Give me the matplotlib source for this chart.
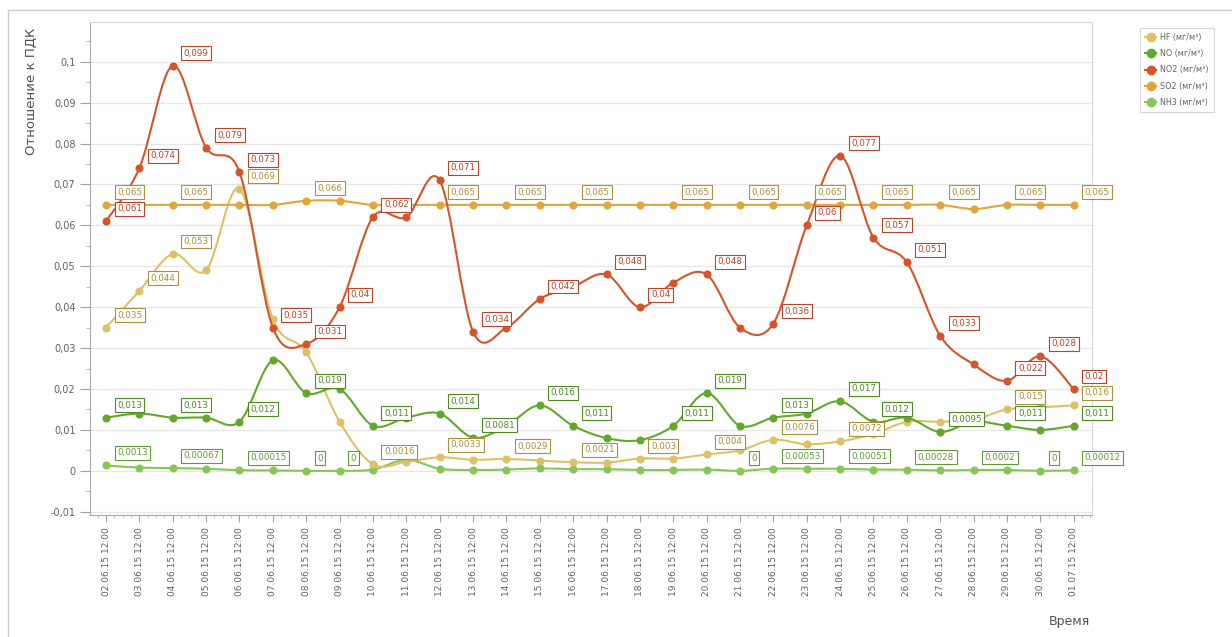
import numpy as np
import matplotlib
matplotlib.use("Agg")
import matplotlib.pyplot as plt
from matplotlib.path import Path
from matplotlib.patches import PathPatch
from matplotlib.lines import Line2D
from matplotlib.ticker import FixedLocator, AutoMinorLocator, MultipleLocator, FuncFormatter

# --- данные ---
dates = ['02.06.15 12:00', '03.06.15 12:00', '04.06.15 12:00', '05.06.15 12:00',
         '06.06.15 12:00', '07.06.15 12:00', '08.06.15 12:00', '09.06.15 12:00',
         '10.06.15 12:00', '11.06.15 12:00', '12.06.15 12:00', '13.06.15 12:00',
         '14.06.15 12:00', '15.06.15 12:00', '16.06.15 12:00', '17.06.15 12:00',
         '18.06.15 12:00', '19.06.15 12:00', '20.06.15 12:00', '21.06.15 12:00',
         '22.06.15 12:00', '23.06.15 12:00', '24.06.15 12:00', '25.06.15 12:00',
         '26.06.15 12:00', '27.06.15 12:00', '28.06.15 12:00', '29.06.15 12:00',
         '30.06.15 12:00', '01.07.15 12:00']

hf = [0.035, 0.044, 0.053, 0.049, 0.069, 0.037, 0.029, 0.012, 0.0016, 0.0022,
      0.0033, 0.0027, 0.0029, 0.0025, 0.0021, 0.002, 0.003, 0.003, 0.004, 0.005,
      0.0076, 0.0065, 0.0072, 0.009, 0.012, 0.012, 0.0125, 0.015, 0.0155, 0.016]
no = [0.013, 0.014, 0.013, 0.013, 0.012, 0.027, 0.019, 0.02, 0.011, 0.013,
      0.014, 0.0081, 0.011, 0.016, 0.011, 0.008, 0.0075, 0.011, 0.019, 0.011,
      0.013, 0.014, 0.017, 0.012, 0.013, 0.0095, 0.012, 0.011, 0.01, 0.011]
no2 = [0.061, 0.074, 0.099, 0.079, 0.073, 0.035, 0.031, 0.04, 0.062, 0.062,
       0.071, 0.034, 0.035, 0.042, 0.045, 0.048, 0.04, 0.046, 0.048, 0.035,
       0.036, 0.06, 0.077, 0.057, 0.051, 0.033, 0.026, 0.022, 0.028, 0.02]
so2 = [0.065, 0.065, 0.065, 0.065, 0.065, 0.065, 0.066, 0.066, 0.065, 0.065,
       0.065, 0.065, 0.065, 0.065, 0.065, 0.065, 0.065, 0.065, 0.065, 0.065,
       0.065, 0.065, 0.065, 0.065, 0.065, 0.065, 0.064, 0.065, 0.065, 0.065]
nh3 = [0.0013, 0.0008, 0.00067, 0.0005, 0.00015, 0.0001, 0, 0, 0.0003, 0.0027,
       0.0005, 0.0002, 0.0003, 0.0006, 0.0004, 0.0004, 0.0002, 0.0002, 0.0003, 0,
       0.00053, 0.0005, 0.00051, 0.0003, 0.00028, 0.0001, 0.0002, 0.0002, 0, 0.00012]

# точки, у которых на графике видна подпись
hf_lbl = [0, 1, 2, 4, 8, 10, 12, 14, 16, 18, 20, 22, 27, 29]
no_lbl = [0, 2, 4, 6, 8, 10, 11, 13, 14, 17, 18, 20, 22, 23, 25, 27, 29]
no2_lbl = [0, 1, 2, 3, 4, 5, 6, 7, 8, 10, 11, 13, 15, 16, 18, 20, 21, 22, 23, 24, 25, 27, 28, 29]
so2_lbl = [0, 2, 6, 10, 12, 14, 17, 19, 21, 23, 25, 27, 29]
nh3_lbl = [0, 2, 4, 6, 7, 19, 20, 22, 24, 26, 28, 29]

# (имя, данные, подписи, цвет линии, цвет подписи, zorder)
series = [
    ('HF (мг/м³)', hf, hf_lbl, '#DCC264', '#A8903A', 3),
    ('NO (мг/м³)', no, no_lbl, '#62A82C', '#4E8A22', 3),
    ('NO2 (мг/м³)', no2, no2_lbl, '#D4552B', '#B8442A', 4),
    ('SO2 (мг/м³)', so2, so2_lbl, '#E2A53A', '#B0903E', 3),
    ('NH3 (мг/м³)', nh3, nh3_lbl, '#86C655', '#5E9A38', 2),
]


def smooth_path(x, y):
    """Catmull-Rom -> кубические Безье, рисует сам matplotlib"""
    x = np.asarray(x, float)
    y = np.asarray(y, float)
    n = len(x)
    verts = [(x[0], y[0])]
    codes = [Path.MOVETO]
    for i in range(n - 1):
        p0 = max(i - 1, 0)
        p3 = min(i + 2, n - 1)
        c1 = (x[i] + (x[i + 1] - x[p0]) / 6, y[i] + (y[i + 1] - y[p0]) / 6)
        c2 = (x[i + 1] - (x[p3] - x[i]) / 6, y[i + 1] - (y[p3] - y[i]) / 6)
        verts += [c1, c2, (x[i + 1], y[i + 1])]
        codes += [Path.CURVE4] * 3
    return Path(verts, codes)


def fmt_val(v):
    return f'{v:g}'.replace('.', ',')


fig = plt.figure(figsize=(12.32, 6.37), dpi=100)
ax = fig.add_axes([90 / 1232, 1 - 515 / 637, 1002 / 1232, 493 / 637])

x = np.arange(len(dates))
handles = []
for name, vals, lbl, col, tcol, z in series:
    ax.add_patch(PathPatch(smooth_path(x, vals), facecolor='none', edgecolor=col,
                           lw=1.5, zorder=z))
    ax.plot(x, vals, 'o', color=col, ms=4.8, mec=col, zorder=z + 0.5)
    for i in lbl:
        ax.annotate(fmt_val(vals[i]), (x[i], vals[i]), xytext=(11, 8),
                    textcoords='offset pixels', ha='left', va='bottom',
                    fontsize=6.3, color=tcol, zorder=10,
                    bbox=dict(boxstyle='square,pad=0.28', fc='white', ec=tcol, lw=0.8))
    handles.append(Line2D([], [], color=col, lw=1.5, marker='o', ms=6, label=name))

ax.set_xlim(-0.48, 29.55)
ax.set_ylim(-0.0108, 0.1097)

ax.xaxis.set_major_locator(FixedLocator(x))
ax.xaxis.set_minor_locator(AutoMinorLocator(4))
ax.set_xticklabels(dates, rotation=90, fontsize=6.5, color='#606060')
ax.yaxis.set_major_locator(MultipleLocator(0.01))
ax.yaxis.set_minor_locator(MultipleLocator(0.005))
ax.yaxis.set_major_formatter(FuncFormatter(lambda v, p: fmt_val(round(v, 3))))
ax.tick_params(axis='y', labelsize=7, colors='#a0a0a0', labelcolor='#606060',
               length=7, width=0.8)
ax.tick_params(axis='y', which='minor', length=3, color='#b0b0b0')
ax.tick_params(axis='x', length=5, width=0.8, color='#a0a0a0', pad=4)
ax.tick_params(axis='x', which='minor', length=2.5, color='#c0c0c0')

ax.grid(axis='y', color='#e6e6e6', lw=0.9)
ax.set_axisbelow(True)
for s in ['top', 'right']:
    ax.spines[s].set_color('#d6d6d6')
for s in ['left', 'bottom']:
    ax.spines[s].set_color('#a8a8a8')

fig.text(31 / 1232, 1 - 28 / 637, 'Отношение к ПДК', rotation=90, ha='center', va='top',
         fontsize=9.5, color='#505050')
fig.text(1090 / 1232, 1 - 622 / 637, 'Время', ha='right', va='center',
         fontsize=9, color='#505050')

leg = fig.legend(handles=handles, loc='upper left', bbox_to_anchor=(1136 / 1232, 1 - 24 / 637),
                 fontsize=5.8, frameon=True, fancybox=False, handlelength=1.4,
                 borderpad=0.6, labelspacing=0.9, handletextpad=0.5)
leg.get_frame().set_edgecolor('#cfcfcf')
leg.get_frame().set_linewidth(0.8)
for t in leg.get_texts():
    t.set_color('#606060')

# рамка контрола
fig.add_artist(Line2D([8 / 1232, 1], [1 - 10 / 637, 1 - 10 / 637], color='#cccccc', lw=1))
fig.add_artist(Line2D([8 / 1232, 8 / 1232], [0, 1 - 10 / 637], color='#cccccc', lw=1))

fig.savefig('out.png', dpi=100)
